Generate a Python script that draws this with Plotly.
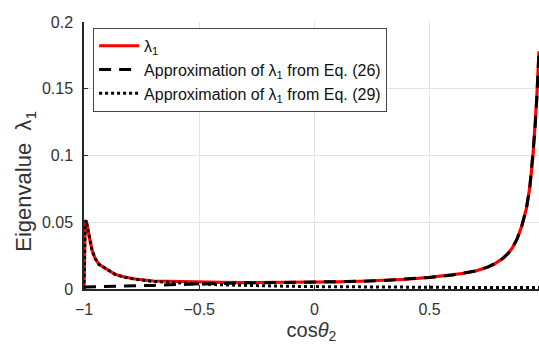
import plotly.graph_objects as go

# Exact eigenvalue lambda_1
x_exact = [-1.0, -0.998, -0.995, -0.991, -0.985, -0.98, -0.974, -0.965, -0.952, -0.935,
           -0.909, -0.885, -0.865, -0.83, -0.778, -0.7, -0.6, -0.5, -0.4, -0.3, -0.2,
           -0.1, 0.0, 0.1, 0.2, 0.3, 0.4, 0.5, 0.6, 0.65, 0.7, 0.75, 0.78, 0.8, 0.82, 0.84,
           0.86, 0.88, 0.9, 0.92, 0.935, 0.948, 0.958, 0.965, 0.975]
lam_exact = [0.0, 0.032, 0.049, 0.0515, 0.047, 0.042, 0.0366, 0.029, 0.023, 0.0185,
             0.0157, 0.0128, 0.011, 0.0092, 0.0075, 0.006, 0.0055, 0.0051, 0.0049, 0.0048, 0.0048,
             0.0049, 0.0051, 0.0054, 0.0058, 0.0064, 0.0073, 0.0087, 0.0105, 0.0118, 0.0135, 0.0162, 0.0185,
             0.0205, 0.0232, 0.0265, 0.031, 0.0375, 0.047, 0.06, 0.076, 0.098, 0.12, 0.142, 0.178]

# Approximation from Eq. (26)
x_eq26 = [-1.0, -0.9, -0.8, -0.7, -0.6, -0.5, -0.4, -0.3, -0.2, -0.1, 0.0, 0.1, 0.2,
          0.3, 0.4, 0.5, 0.6, 0.65, 0.7, 0.75, 0.78, 0.8, 0.82, 0.84, 0.86, 0.88, 0.9,
          0.92, 0.935, 0.948, 0.958, 0.965, 0.975]
lam_eq26 = [0.0015, 0.0018, 0.0022, 0.0027, 0.0033, 0.0039, 0.0043, 0.0046, 0.0047, 0.0049, 0.0051, 0.0054, 0.0058,
            0.0064, 0.0073, 0.0087, 0.0105, 0.0118, 0.0135, 0.0162, 0.0185, 0.0205, 0.0232, 0.0265, 0.031,
            0.0375, 0.047, 0.06, 0.076, 0.098, 0.12, 0.142, 0.178]

# Approximation from Eq. (29)
x_eq29 = [-1.0, -0.998, -0.995, -0.991, -0.985, -0.98, -0.974, -0.965, -0.952, -0.935,
          -0.909, -0.885, -0.865, -0.83, -0.778, -0.7, -0.6, -0.5, -0.4, -0.3, -0.2,
          -0.1, 0.0, 0.2, 0.4, 0.6, 0.8, 0.975]
lam_eq29 = [0.0, 0.032, 0.049, 0.0515, 0.047, 0.042, 0.0366, 0.029, 0.023, 0.0185,
            0.0157, 0.0128, 0.011, 0.0091, 0.0073, 0.0057, 0.0046, 0.0038, 0.0031, 0.0026, 0.0022,
            0.002, 0.0018, 0.0015, 0.0013, 0.0012, 0.0012, 0.0012]

y_ticks = [0, 0.05, 0.1, 0.15, 0.2]
y_tick_labels = ["0", "0.05", "0.1", "0.15", "0.2"]
x_ticks = [-1, -0.5, 0, 0.5]
x_tick_labels = ["\u22121", "\u22120.5", "0", "0.5"]

FONT = "Liberation Sans, Arial, sans-serif"
TEXT = "#333333"

fig = go.Figure()
fig.add_trace(go.Scatter(x=x_exact, y=lam_exact, mode="lines",
                         line=dict(color="#ff0000", width=3.2),
                         name="\u03bb<sub>1</sub>"))
fig.add_trace(go.Scatter(x=x_eq26, y=lam_eq26, mode="lines",
                         line=dict(color="#000000", width=3, dash="12px,8px"),
                         name="Approximation of \u03bb<sub>1</sub> from Eq. (26)"))
fig.add_trace(go.Scatter(x=x_eq29, y=lam_eq29, mode="lines",
                         line=dict(color="#000000", width=3, dash="dot"),
                         name="Approximation of \u03bb<sub>1</sub> from Eq. (29)"))

# y-axis title drawn as a rotated annotation (sits lower than centre, as in the reference)
fig.add_annotation(text="Eigenvalue\u00a0\u00a0\u03bb<sub>1</sub>",
                   xref="paper", yref="paper", x=-0.13, y=0.405,
                   xanchor="center", yanchor="middle", textangle=-90,
                   showarrow=False, font=dict(size=22, color=TEXT, family=FONT))

fig.update_layout(
    width=539, height=344,
    margin=dict(l=84, r=0, t=22, b=55),
    plot_bgcolor="white", paper_bgcolor="white",
    font=dict(family=FONT, color=TEXT, size=16),
    showlegend=True,
    legend=dict(x=0.02, y=0.978, xanchor="left", yanchor="top",
                bgcolor="white", bordercolor="#444444", borderwidth=1,
                font=dict(size=16, color="#111111"), tracegroupgap=0,
                itemwidth=40),
    xaxis=dict(range=[-1, 0.975], tickvals=x_ticks, ticktext=x_tick_labels,
               showgrid=True, gridcolor="#e3e3e3", gridwidth=1,
               showline=True, linecolor="#262626", linewidth=1.5,
               zeroline=False, ticks="inside", ticklen=4, tickcolor="#262626",
               ticklabelstandoff=5, automargin=False,
               tickfont=dict(size=16, color=TEXT),
               title=dict(text="cos<i>\u03b8</i><sub>2</sub>", font=dict(size=20, color=TEXT),
                          standoff=7)),
    yaxis=dict(range=[0, 0.2], tickvals=y_ticks, ticktext=y_tick_labels,
               showgrid=True, gridcolor="#e3e3e3", gridwidth=1,
               showline=True, linecolor="#262626", linewidth=1.5,
               zeroline=False, ticks="inside", ticklen=4, tickcolor="#262626",
               ticklabelstandoff=6, automargin=False,
               tickfont=dict(size=16, color=TEXT)),
)

# Remove the default page margin so the 539x344 figure fills the window exactly.
fig.write_html("out.html", config={"displayModeBar": False},
               post_script="document.body.style.margin='0';")
